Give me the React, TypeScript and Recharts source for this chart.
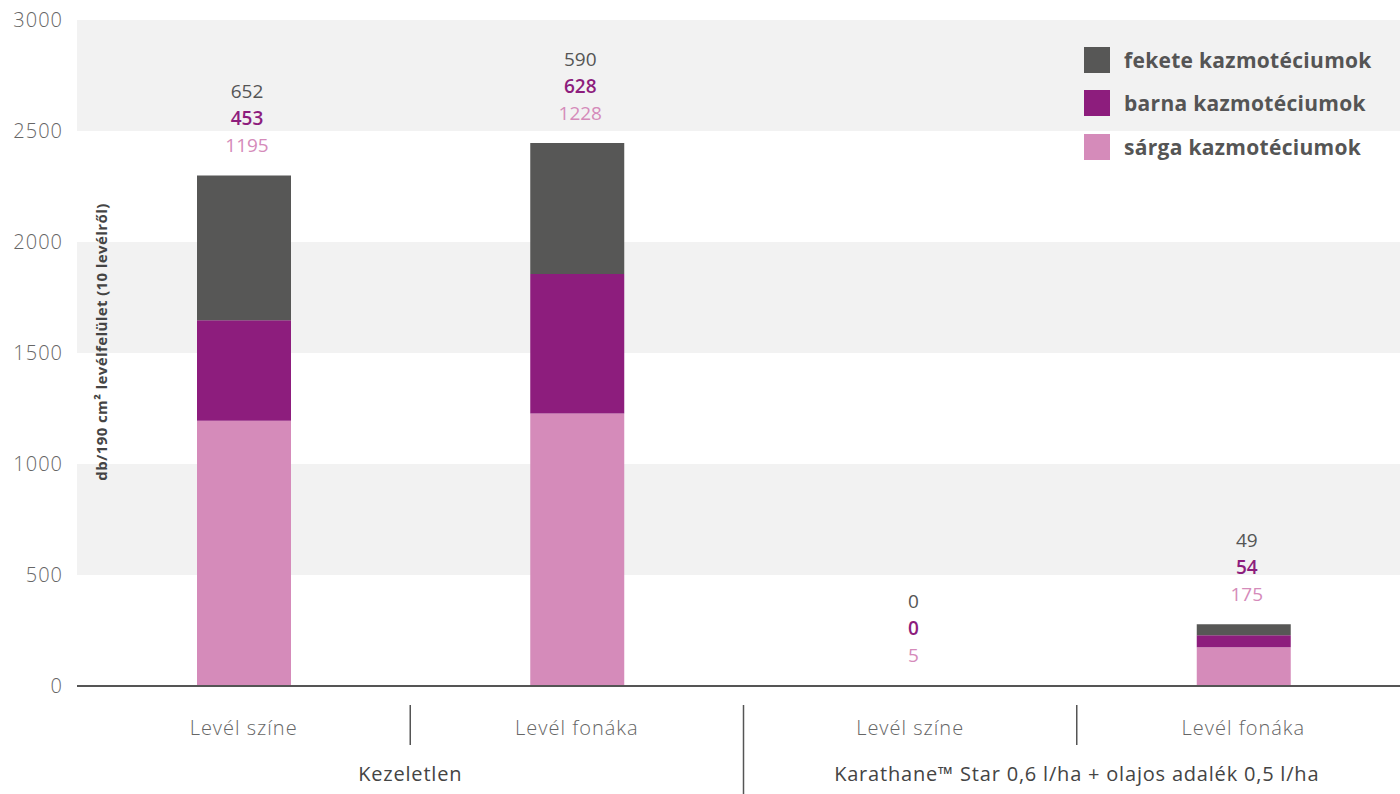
import React from "react";
import {
  BarChart,
  Bar,
  XAxis,
  YAxis,
  CartesianGrid,
  LabelList,
} from "recharts";

const categories = ["Levél színe", "Levél fonáka", "Levél színe", "Levél fonáka"];
const groups = ["Kezeletlen", "Karathane™ Star 0,6 l/ha + olajos adalék 0,5 l/ha"];
const sarga = [1195, 1228, 5, 175];
const barna = [453, 628, 0, 54];
const fekete = [652, 590, 0, 49];
const yTicks = [0, 500, 1000, 1500, 2000, 2500, 3000];

const seriesNames = ["fekete kazmotéciumok", "barna kazmotéciumok", "sárga kazmotéciumok"];

const C_FEKETE = "#575756";
const C_BARNA = "#8d1d7d";
const C_SARGA = "#d58bba";
const FONT = "'Open Sans', Lato, sans-serif";

const data = categories.map((c, i) => ({
  id: "c" + i,
  cat: c,
  sarga: sarga[i],
  barna: barna[i],
  fekete: fekete[i],
}));

function XTick(props: any) {
  const { x, y, payload } = props;
  const i = payload.index;
  const half = payload.offset ?? 166.6;
  return (
    <g>
      <text
        x={x}
        y={y + 33}
        textAnchor="middle"
        dominantBaseline="central"
        fontSize={20}
        fontWeight={300}
        letterSpacing={1}
        fill="#666"
        fontFamily={FONT}
      >
        {categories[i]}
      </text>
      {(i === 0 || i === 2) && (
        <>
          <line x1={x + half} x2={x + half} y1={y + 11} y2={y + 51} stroke="#555" strokeWidth={1.5} />
          <text
            x={x + half}
            y={y + 79}
            textAnchor="middle"
            dominantBaseline="central"
            fontSize={20}
            letterSpacing={0.8}
            fill="#444"
            fontFamily={FONT}
          >
            {groups[i === 0 ? 0 : 1]}
          </text>
        </>
      )}
      {i === 1 && (
        <line x1={x + half} x2={x + half} y1={y + 11} y2={y + 110} stroke="#555" strokeWidth={1.5} />
      )}
    </g>
  );
}

// three values stacked above the top of each column
function makeStackLabel(onlyEmptyTop: boolean) {
  return function StackLabel(props: any) {
    const { x, y, width, value } = props;
    const index = Number(String(value).slice(1));
    const emptyTop = barna[index] + fekete[index] === 0;
    if (emptyTop !== onlyEmptyTop) return null;
    const cx = x + width / 2 + 3;
    const base = y - 30;
    const vals = [fekete[index], barna[index], sarga[index]];
    const cols = ["#555", C_BARNA, C_SARGA];
    return (
      <g>
        {vals.map((v, k) => (
          <text
            key={k}
            x={cx}
            y={base - (2 - k) * 27}
            textAnchor="middle"
            dominantBaseline="central"
            fontSize={19}
            fontWeight={k === 1 ? 600 : 400}
            fill={cols[k]}
            fontFamily={FONT}
          >
            {v}
          </text>
        ))}
      </g>
    );
  };
}

const TopLabel = makeStackLabel(false);
const BottomLabel = makeStackLabel(true);

function LegendBox() {
  const cols = [C_FEKETE, C_BARNA, C_SARGA];
  return (
    <div style={{ position: "absolute", left: 1084, top: 38, fontFamily: FONT }}>
      {seriesNames.map((n, k) => (
        <div key={n} style={{ display: "flex", alignItems: "center", height: 43.5 }}>
          <span style={{ width: 26, height: 26, background: cols[k], marginRight: 14, display: "inline-block" }} />
          <span style={{ fontSize: 21, fontWeight: 700, color: "#555", whiteSpace: "nowrap", letterSpacing: 0.3 }}>{n}</span>
        </div>
      ))}
    </div>
  );
}

export default function App() {
  return (
    <div style={{ position: "relative", width: 1400, height: 794, overflow: "hidden", background: "#fff" }}>
      <style>{`body{margin:0}`}</style>
      <BarChart
        width={1410}
        height={794}
        data={data}
        margin={{ top: 20, right: 0, bottom: 0, left: 0 }}
        barSize={94}
      >
        <CartesianGrid
          vertical={false}
          stroke="none"
          horizontalFill={["#f2f2f2", "#ffffff"]}
          fillOpacity={1}
        />
        <XAxis
          dataKey="id"
          height={108}
          tickLine={false}
          axisLine={{ stroke: "#555", strokeWidth: 2 }}
          tick={<XTick />}
          interval={0}
        />
        <YAxis
          width={77}
          domain={[0, 3000]}
          ticks={yTicks}
          tickLine={false}
          axisLine={false}
          tickMargin={8}
          tick={{ fontSize: 20, fill: "#666", fontFamily: FONT, fontWeight: 300, letterSpacing: 1 }}
        />
        <Bar dataKey="sarga" stackId="a" fill={C_SARGA} isAnimationActive={false}>
          <LabelList dataKey="id" content={<BottomLabel />} />
        </Bar>
        <Bar dataKey="barna" stackId="a" fill={C_BARNA} isAnimationActive={false} />
        <Bar dataKey="fekete" stackId="a" fill={C_FEKETE} isAnimationActive={false}>
          <LabelList dataKey="id" content={<TopLabel />} />
        </Bar>
      </BarChart>
      <LegendBox />
      <div
        style={{
          position: "absolute",
          left: 101,
          top: 342,
          transform: "translate(-50%, -50%) rotate(-90deg)",
          whiteSpace: "nowrap",
          fontFamily: FONT,
          fontSize: 15,
          fontWeight: 700,
          letterSpacing: 0.4,
          color: "#444",
        }}
      >
        db/190 cm² levélfelület (10 levélről)
      </div>
    </div>
  );
}
